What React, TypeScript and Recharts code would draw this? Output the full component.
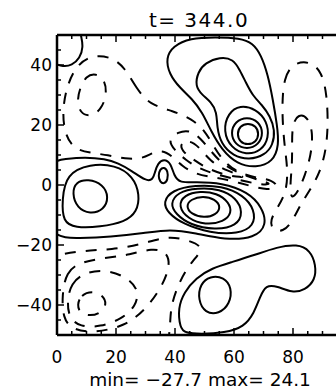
import { LineChart, Line, XAxis, YAxis } from 'recharts'

type Pair = [number, number]

// axis ticks (minor every 5, majors every 20; the 100 label lies outside the window)
const xTicks = [0, 5, 10, 15, 20, 25, 30, 35, 40, 45, 50, 55, 60, 65, 70, 75, 80, 85, 90, 95, 100]
const yTicks = [-50, -45, -40, -35, -30, -25, -20, -15, -10, -5, 0, 5, 10, 15, 20, 25, 30, 35, 40, 45, 50]
const xMajor = [0, 20, 40, 60, 80, 100]
const xLabelled = [0, 20, 40, 60, 80]
const yLabelled = [-40, -20, 0, 20, 40]

const title = 't= 344.0'
const footer = 'min= −27.7 max= 24.1'

// positive levels (solid)
const posCorner: Pair[] = [[-1, 40.5], [2, 39.7], [5, 40.2], [7.5, 42.5], [8.6, 46], [8.2, 49.5], [7.6, 52]]
const posTopOuter: Pair[] = [[36.9, 42.3], [39.3, 46.3], [45.1, 49.0], [53.6, 49.3], [62.0, 49.0], [66.4, 47.3], [69.2, 43.3], [71.5, 36.7], [73.2, 28.3], [74.6, 20.0], [75.3, 13.3], [73.2, 7.7], [67.5, 5.7], [61.0, 7.0], [55.9, 11.7], [52.2, 18.0], [49.2, 24.3], [45.8, 28.7], [41.7, 32.3], [38.0, 37.0]]
const posTopInner: Pair[] = [[46.8, 33.0], [47.8, 37.7], [50.2, 40.7], [55.3, 42.7], [59.7, 42.0], [62.0, 38.3], [64.1, 34.0], [66.4, 29.7], [69.5, 26.7], [72.2, 23.0], [73.9, 18.3], [73.2, 13.3], [70.5, 10.0], [65.1, 8.3], [59.7, 9.7], [55.6, 13.7], [54.2, 19.3], [54.2, 24.3], [52.2, 27.7], [49.2, 30.0]]
const posPeak3: Pair[] = [[56.3, 18.0], [58.0, 24.0], [62.0, 26.7], [67.5, 25.3], [71.2, 21.3], [71.9, 15.7], [69.2, 11.3], [64.1, 10.0], [59.0, 12.3]]
const posPeak2: Pair[] = [[58.8, 17.3], [60.4, 21.2], [64.4, 22.8], [68.4, 21.2], [70.0, 17.3], [68.4, 13.4], [64.4, 11.8], [60.4, 13.4]]
const posPeak1: Pair[] = [[61.0, 17.0], [62.0, 19.7], [64.7, 20.7], [67.5, 19.7], [68.5, 17.0], [67.5, 14.3], [64.7, 13.3], [62.0, 14.3]]
const posLeftOuter: Pair[] = [[-2.4, 8.0], [2.7, 8.7], [9.5, 9.3], [16.3, 8.7], [20.7, 7.3], [25.4, 4.7], [30.2, 1.3], [32.5, 1.7], [33.2, 4.3], [34.2, 7.3], [36.3, 8.7], [38.6, 7.3], [39.7, 3.0], [41.7, 0.7], [46.8, 1.0], [55.9, 0.7], [64.7, -2.3], [69.5, -7.3], [71.2, -13.3], [67.1, -17.7], [56.9, -18.3], [46.8, -16.0], [38.3, -14.7], [29.8, -16.0], [18.0, -17.3], [7.8, -17.7], [-2.4, -17.7], [-5.8, -5.0]]
const posLeftMid: Pair[] = [[1.7, -5.0], [3.1, 3.7], [11.2, 7.0], [19.7, 6.7], [25.8, 3.0], [28.1, -3.3], [27.1, -9.0], [23.1, -12.3], [14.6, -14.0], [6.1, -14.3], [2.0, -12.3]]
const posLeftInner: Pair[] = [[5.1, -2.7], [6.4, 1.0], [10.5, 2.0], [15.6, 0.3], [17.6, -4.0], [15.9, -8.3], [11.2, -9.7], [6.8, -7.7]]
const posSmall: Pair[] = [[34.3, 3.0], [34.9, 5.3], [36.3, 6.0], [37.6, 4.7], [37.6, 1.7], [36.3, 0.3], [34.9, 1.0]]
const posRing4: Pair[] = [[35.9, -5.7], [39.0, -1.7], [46.8, 0], [55.9, -0.3], [63.1, -3.3], [67.1, -8.3], [66.8, -13.7], [61.4, -16.3], [51.9, -16.0], [42.7, -13.0], [37.6, -9.3]]
const posRing3: Pair[] = [[38.3, -6.3], [41.0, -2.3], [47.5, -1.0], [55.3, -1.3], [60.7, -4.3], [63.1, -9.0], [61.0, -13.7], [53.6, -15.0], [45.1, -13.3], [40.3, -9.7]]
const posRing2: Pair[] = [[41.0, -7.0], [43.1, -3.3], [48.5, -2.0], [54.2, -2.7], [58.3, -5.7], [59.3, -9.3], [56.6, -12.3], [50.2, -13.3], [44.4, -11.3]]
const posRing1: Pair[] = [[43.7, -7.0], [45.4, -4.7], [49.5, -3.7], [53.6, -4.7], [55.6, -7.3], [53.9, -10.0], [49.8, -11.0], [45.4, -9.7]]
const posBottomOuter: Pair[] = [[41.7, -47.7], [41.0, -41.0], [43.1, -35.7], [47.1, -31.0], [52.5, -27.7], [59.3, -25.7], [67.1, -23.3], [74.6, -20.7], [81.4, -19.7], [85.8, -21.7], [87.8, -26.7], [87.5, -31.7], [84.1, -35.0], [79.7, -36.0], [74.6, -33.7], [70.8, -33.3], [68.8, -37.3], [66.8, -42.7], [63.4, -47.3], [56.9, -49.3], [48.5, -49.7], [43.4, -49.3]]
const posBottomInner: Pair[] = [[47.8, -38.3], [48.5, -33.0], [51.9, -30.3], [56.6, -30.7], [59.3, -34.3], [58.6, -39.7], [54.9, -43.0], [50.2, -42.7]]

// negative levels (dashed)
const negTopLeftInner: Pair[] = [[7.8, 32.3], [9.8, 36.3], [13.2, 37.3], [16.3, 35.0], [16.9, 30.0], [14.9, 25.0], [11.2, 22.7], [7.8, 24.0], [6.8, 28.3]]
const negTopLeftOuter: Pair[] = [[31.5, 26.7], [26.8, 32.3], [23.1, 39.0], [18.6, 42.7], [11.9, 43.3], [7.1, 40.3], [3.7, 34.3], [1.7, 25.0], [2.7, 16.7], [5.8, 12.0], [11.2, 10.7], [17.3, 10.0], [23.1, 8.7], [28.8, 8.7], [32.2, 10.7], [35.6, 11.7], [39.0, 9.7], [42.4, 6.3], [46.8, 3.7], [51.9, 2.7], [56.9, 2.0], [65.4, -0.3], [71.5, -1.7], [75.3, -0.7], [72.9, 1.7], [68.1, 2.3], [61.4, 4.0], [56.6, 7.7], [53.2, 12.7], [50.2, 18.0], [45.8, 22.0], [39.3, 24.7]]
const negBandA: Pair[] = [[37.6, 15.0], [41.0, 17.7], [45.1, 18.3], [48.5, 15.7], [52.2, 11.3], [55.9, 7.0], [62.0, 3.7], [69.5, 1.3], [72.9, 0.3], [69.5, 0.0], [61.4, 1.7], [53.2, 3.7], [47.8, 5.7], [43.7, 8.3], [39.7, 11.7]]
const negBandB: Pair[] = [[41.7, 14.0], [45.1, 15.0], [48.5, 12.3], [51.9, 8.0], [57.3, 4.7], [65.4, 2.3], [58.0, 3.0], [51.2, 5.3], [45.8, 8.7], [42.4, 11.3]]
const negRightOuter: Pair[] = [[76.3, 26.7], [76.9, 35.7], [80.0, 40.7], [85.8, 41.3], [89.8, 37.7], [91.5, 30.0], [91.9, 20.0], [91.2, 11.7], [89.2, 4.3], [85.8, -1.7], [82.4, -6.7], [79.7, -12.3], [76.6, -15.7], [72.9, -15.0], [72.2, -11.7], [74.9, -7.3], [77.6, -2.7], [78.3, 4.3], [77.3, 11.7], [76.6, 19.0]]
const negRightInner: Pair[] = [[79.7, 20.0], [81.7, 23.7], [85.1, 22.7], [86.8, 17.3], [86.1, 10.0], [84.1, 3.3], [81.7, -2.3], [79.3, -5.0], [79.0, 0], [79.7, 6.7], [79.7, 13.3]]
const negBottomLeft1: Pair[] = [[6.8, -40.0], [8.1, -36.7], [11.9, -35.3], [15.6, -36.7], [16.9, -39.7], [14.9, -42.7], [11.2, -43.7], [7.8, -42.7]]
const negBottomLeft2: Pair[] = [[3.4, -39.0], [4.7, -32.7], [9.5, -29.0], [16.9, -28.3], [23.7, -30.7], [27.8, -35.0], [26.8, -40.3], [22.0, -44.7], [14.6, -47.3], [7.8, -47.3], [4.1, -44.3]]
const negBottomLeft3: Pair[] = [[1.7, -36.7], [3.1, -29.0], [7.8, -25.7], [16.3, -24.3], [24.7, -23.3], [32.2, -21.0], [37.6, -22.3], [38.3, -27.7], [34.9, -35.0], [29.8, -41.7], [23.1, -47.0], [12.9, -49.3], [5.1, -48.3], [2.0, -44.3]]
const negBottomLeft4: Pair[] = [[-4.1, -25.0], [1.0, -23.3], [9.5, -22.0], [18.6, -21.3], [28.1, -19.7], [36.6, -17.7], [43.4, -18.3], [48.5, -21.0], [45.8, -25.7], [41.7, -32.3], [39.0, -40.0], [38.3, -46.7], [37.6, -53.3]]

const contours = [
  { id: 'posCorner', pts: posCorner, neg: false, open: true },
  { id: 'posTopOuter', pts: posTopOuter, neg: false, open: false },
  { id: 'posTopInner', pts: posTopInner, neg: false, open: false },
  { id: 'posPeak3', pts: posPeak3, neg: false, open: false },
  { id: 'posPeak2', pts: posPeak2, neg: false, open: false },
  { id: 'posPeak1', pts: posPeak1, neg: false, open: false },
  { id: 'posLeftOuter', pts: posLeftOuter, neg: false, open: false },
  { id: 'posLeftMid', pts: posLeftMid, neg: false, open: false },
  { id: 'posLeftInner', pts: posLeftInner, neg: false, open: false },
  { id: 'posSmall', pts: posSmall, neg: false, open: false },
  { id: 'posRing4', pts: posRing4, neg: false, open: false },
  { id: 'posRing3', pts: posRing3, neg: false, open: false },
  { id: 'posRing2', pts: posRing2, neg: false, open: false },
  { id: 'posRing1', pts: posRing1, neg: false, open: false },
  { id: 'posBottomOuter', pts: posBottomOuter, neg: false, open: false },
  { id: 'posBottomInner', pts: posBottomInner, neg: false, open: false },
  { id: 'negTopLeftInner', pts: negTopLeftInner, neg: true, open: false },
  { id: 'negTopLeftOuter', pts: negTopLeftOuter, neg: true, open: false },
  { id: 'negBandA', pts: negBandA, neg: true, open: false },
  { id: 'negBandB', pts: negBandB, neg: true, open: false },
  { id: 'negRightOuter', pts: negRightOuter, neg: true, open: false },
  { id: 'negRightInner', pts: negRightInner, neg: true, open: false },
  { id: 'negBottomLeft1', pts: negBottomLeft1, neg: true, open: false },
  { id: 'negBottomLeft2', pts: negBottomLeft2, neg: true, open: false },
  { id: 'negBottomLeft3', pts: negBottomLeft3, neg: true, open: false },
  { id: 'negBottomLeft4', pts: negBottomLeft4, neg: true, open: true },
]

const FONT = '"DejaVu Sans", sans-serif'
const fmt = (v: number) => (v < 0 ? `−${Math.abs(v)}` : `${v}`)

function BottomTick(props: any) {
  const { x, y, payload } = props
  const major = xMajor.includes(payload.value)
  return (
    <g>
      <line x1={x} x2={x} y1={y} y2={y - (major ? 7 : 4)} stroke="#000" strokeWidth={1.5} />
      {xLabelled.includes(payload.value) && (
        <text x={x} y={y + 28} textAnchor="middle" fontSize={17} fontFamily={FONT} fill="#000">
          {fmt(payload.value)}
        </text>
      )}
    </g>
  )
}

function TopTick(props: any) {
  const { x, y, payload } = props
  const major = xMajor.includes(payload.value)
  return <line x1={x} x2={x} y1={y} y2={y + (major ? 7 : 4)} stroke="#000" strokeWidth={1.5} />
}

function LeftTick(props: any) {
  const { x, y, payload } = props
  const major = yLabelled.includes(payload.value)
  return (
    <g>
      <line x1={x} x2={x + (major ? 7 : 4)} y1={y} y2={y} stroke="#000" strokeWidth={1.5} />
      {major && (
        <text x={x - 5} y={y + 6} textAnchor="end" fontSize={17} fontFamily={FONT} fill="#000">
          {fmt(payload.value)}
        </text>
      )}
    </g>
  )
}

function RightTick(props: any) {
  const { x, y, payload } = props
  const major = yLabelled.includes(payload.value)
  return <line x1={x} x2={x - (major ? 7 : 4)} y1={y} y2={y} stroke="#000" strokeWidth={1.5} />
}

const toPoints = (pts: Pair[]) => pts.map(([x, y]) => ({ x, y }))

export default function App() {
  const frame = { stroke: '#000', strokeWidth: 2.5 }
  return (
    <div style={{ position: 'absolute', left: 0, top: 0, width: 336, height: 390, overflow: 'hidden', background: '#fff' }}>
      <LineChart width={380} height={390} margin={{ top: 0, right: 0, bottom: 0, left: 0 }}>
        <XAxis xAxisId="b" dataKey="x" type="number" domain={[0, 100]} ticks={xTicks} interval={0}
          allowDataOverflow height={55} tickSize={0} tickMargin={0} tickLine={false} axisLine={frame} tick={<BottomTick />} />
        <XAxis xAxisId="t" orientation="top" dataKey="x" type="number" domain={[0, 100]} ticks={xTicks} interval={0}
          allowDataOverflow height={35} tickSize={0} tickMargin={0} tickLine={false} axisLine={frame} tick={<TopTick />} />
        <YAxis yAxisId="l" type="number" domain={[-50, 50]} ticks={yTicks} interval={0}
          allowDataOverflow width={57} tickSize={0} tickMargin={0} tickLine={false} axisLine={frame} tick={<LeftTick />} />
        <YAxis yAxisId="r" orientation="right" type="number" domain={[-50, 50]} ticks={yTicks} interval={0}
          allowDataOverflow width={28} tickSize={0} tickMargin={0} tickLine={false} axisLine={frame} tick={<RightTick />} />
        {contours.map((c) => (
          <Line
            key={c.id}
            xAxisId="b"
            yAxisId="l"
            data={toPoints(c.pts)}
            dataKey="y"
            type={c.open ? 'natural' : 'basisClosed'}
            stroke="#000"
            strokeWidth={2}
            strokeDasharray={c.neg ? '11 10' : undefined}
            dot={false}
            activeDot={false}
            legendType="none"
            isAnimationActive={false}
          />
        ))}
      </LineChart>
      <svg width={336} height={390} style={{ position: 'absolute', left: 0, top: 0, pointerEvents: 'none' }}>
        <text x={199} y={27} textAnchor="middle" fontSize={20} letterSpacing={1.5} fontFamily={FONT} fill="#000">
          {title}
        </text>
        <text x={200} y={386} textAnchor="middle" fontSize={18.5} fontFamily={FONT} fill="#000">
          {footer}
        </text>
      </svg>
    </div>
  )
}
